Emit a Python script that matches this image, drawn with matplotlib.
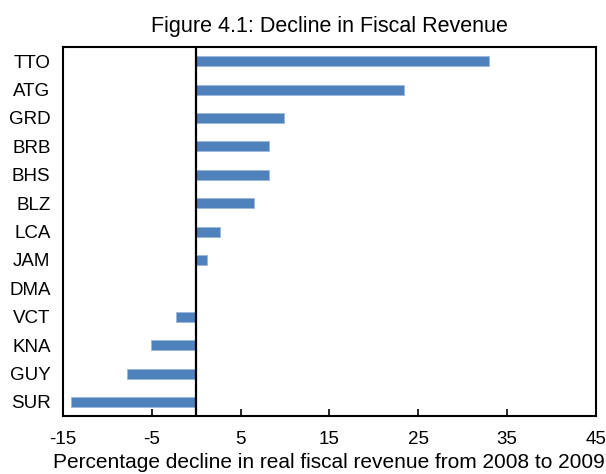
import numpy as np
import matplotlib.pyplot as plt

plt.rcParams['font.family'] = ['Liberation Sans', 'DejaVu Sans']

countries = ['TTO', 'ATG', 'GRD', 'BRB', 'BHS', 'BLZ', 'LCA', 'JAM', 'DMA', 'VCT', 'KNA', 'GUY', 'SUR']
decline = [33.0, 23.4, 9.9, 8.2, 8.2, 6.5, 2.7, 1.2, 0.0, -2.3, -5.1, -7.8, -14.1]
xticks = [-15, -5, 5, 15, 25, 35, 45]

fig = plt.figure(figsize=(6.06, 4.74), dpi=100)
ax = fig.add_axes([0.104, 0.122, 0.879, 0.779])

y = np.arange(len(countries))
ax.barh(y, decline, height=0.35, color='#4F81BD', edgecolor='#9BB7DB', linewidth=0.6)
ax.axvline(0, color='black', linewidth=1.6)

ax.set_xlim(-15, 45)
ax.set_ylim(len(countries) - 0.5, -0.5)
ax.set_yticks(y)
ax.set_yticklabels(countries, fontsize=13.5)
ax.tick_params(axis='y', length=0, pad=9)
ax.set_xticks(xticks)
ax.set_xticklabels([str(t) for t in xticks], fontsize=13.5)
ax.tick_params(axis='x', direction='in', length=5, width=1.2, pad=11)

for s in ax.spines.values():
    s.set_linewidth(1.5)

ax.set_title('Figure 4.1: Decline in Fiscal Revenue', fontsize=15.5, pad=11)
ax.set_xlabel('Percentage decline in real fiscal revenue from 2008 to 2009', fontsize=15, labelpad=3)

fig.savefig('out.png', dpi=100)
